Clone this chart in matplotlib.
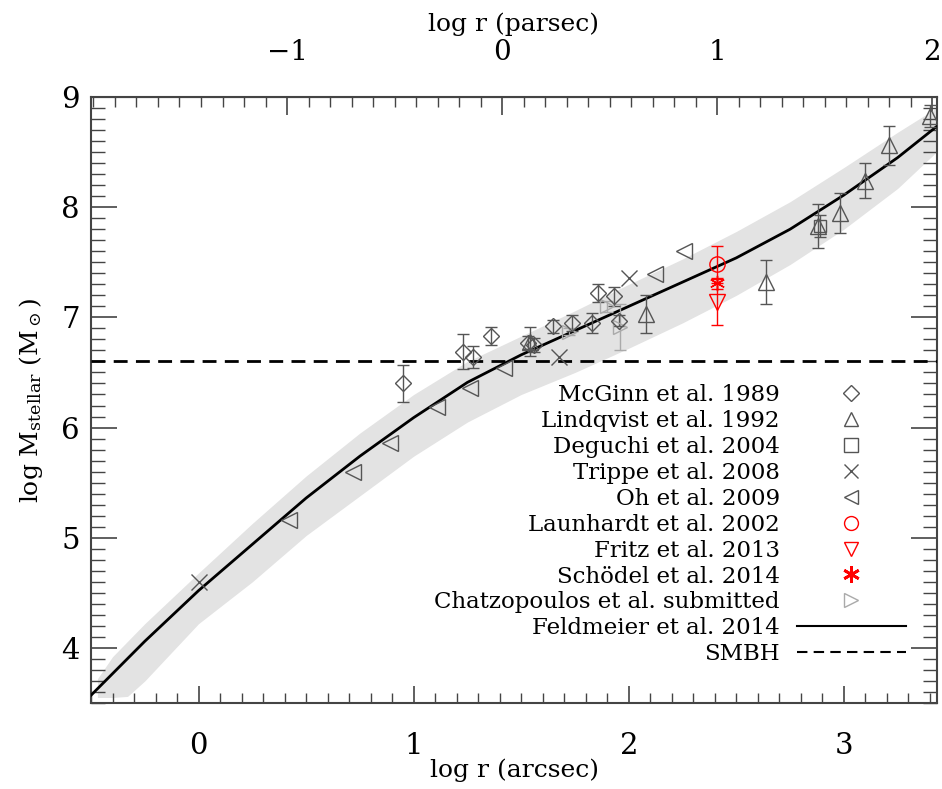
import matplotlib
matplotlib.use("Agg")
import matplotlib.pyplot as plt
from matplotlib.lines import Line2D
from matplotlib.ticker import MultipleLocator
import numpy as np

plt.rcParams['font.family'] = 'DejaVu Serif'
plt.rcParams['mathtext.fontset'] = 'dejavuserif'

# arcsec -> parsec offset (R0 = 8 kpc)
off = np.log10(206265.0 / 8000.0)

# Feldmeier et al. 2014 model
curve_x = [-0.50, -0.25, 0.0, 0.25, 0.50, 0.75, 1.00, 1.25, 1.50, 1.75,
           2.00, 2.25, 2.50, 2.75, 3.00, 3.25, 3.43]
curve_y = [3.57, 4.06, 4.52, 4.94, 5.36, 5.74, 6.09, 6.41, 6.66, 6.88,
           7.10, 7.32, 7.54, 7.80, 8.11, 8.45, 8.73]

band_x = [-0.47, -0.40, -0.33, -0.25, 0.0, 0.25, 0.5, 0.75, 1.0, 1.25, 1.5,
          1.75, 2.0, 2.25, 2.5, 2.75, 3.0, 3.25, 3.43]
band_hi = [3.72, 3.92, 4.06, 4.22, 4.68, 5.13, 5.56, 5.95, 6.30, 6.60, 6.83,
           7.06, 7.30, 7.53, 7.78, 8.05, 8.36, 8.68, 8.90]
band_lo = [3.55, 3.55, 3.56, 3.70, 4.22, 4.60, 5.02, 5.38, 5.74, 6.05, 6.30,
           6.50, 6.72, 6.95, 7.20, 7.48, 7.80, 8.17, 8.50]

smbh = 6.6

# McGinn et al. 1989
mcg_x = [0.95, 1.23, 1.275, 1.36, 1.53, 1.56, 1.65, 1.735, 1.83, 1.855, 1.93, 1.955]
mcg_y = [6.40, 6.69, 6.64, 6.83, 6.77, 6.75, 6.92, 6.95, 6.95, 7.22, 7.19, 6.97]
mcg_e = [0.17, 0.16, 0.10, 0.08, 0.06, 0.06, 0.06, 0.07, 0.09, 0.08, 0.09, 0.05]

# Lindqvist et al. 1992
lin_x = [1.54, 2.08, 2.64, 2.88, 2.98, 3.10, 3.21, 3.40]
lin_y = [6.78, 7.03, 7.32, 7.83, 7.95, 8.24, 8.56, 8.83]
lin_e = [0.13, 0.17, 0.20, 0.20, 0.18, 0.16, 0.18, 0.10]

# Deguchi et al. 2004
deg_x = [2.89]
deg_y = [7.83]
deg_e = [0.10]

# Trippe et al. 2008
tri_x = [0.0, 1.675, 2.0]
tri_y = [4.60, 6.64, 7.36]

# Oh et al. 2009
oh_x = [0.42, 0.716, 0.888, 1.11, 1.26, 1.42, 2.12, 2.255]
oh_y = [5.16, 5.60, 5.86, 6.19, 6.36, 6.54, 7.39, 7.60]

# Launhardt 2002, Fritz 2013, Schoedel 2014
lau_x, lau_y, lau_e = [2.41], [7.48], [0.17]
fri_x, fri_y, fri_e = [2.41], [7.14], [0.21]
sch_x, sch_y, sch_e = [2.41], [7.31], [0.05]

# Chatzopoulos et al. submitted
cha_x = [1.72, 1.90, 1.96]
cha_y = [6.87, 7.10, 6.91]
cha_e = [0.03, 0.05, 0.21]

fig = plt.figure(figsize=(9.42, 7.89), dpi=100)
ax = fig.add_axes([91/942, 86/789, 846/942, 606/789])

ax.fill_between(band_x, band_lo, band_hi, color='#e3e3e3', lw=0, zorder=1)
ax.plot(curve_x, curve_y, color='black', lw=2, zorder=5)
ax.axhline(smbh, color='black', lw=2, ls=(0, (5, 3)), zorder=4)

gray = '#555555'
light = '#aaaaaa'
eb = dict(capsize=4, elinewidth=1, capthick=1, ls='none', mfc='none', zorder=6)

ax.errorbar(cha_x, cha_y, yerr=cha_e, marker='>', ms=10, color=light, mec=light, **eb)
ax.errorbar(mcg_x, mcg_y, yerr=mcg_e, marker='D', ms=8, color=gray, mec=gray, **eb)
ax.errorbar(lin_x, lin_y, yerr=lin_e, marker='^', ms=11, color=gray, mec=gray, **eb)
ax.errorbar(deg_x, deg_y, yerr=deg_e, marker='s', ms=9, color=gray, mec=gray, **eb)
ax.plot(tri_x, tri_y, 'x', ms=11, mew=1, color=gray, zorder=6)
ax.plot(oh_x, oh_y, '<', ms=11, mfc='none', mec=gray, mew=1, ls='none', zorder=6)
ax.errorbar(lau_x, lau_y, yerr=lau_e, marker='o', ms=11, color='red', mec='red', **eb)
ax.errorbar(fri_x, fri_y, yerr=fri_e, marker='v', ms=11, color='red', mec='red', **eb)
ax.errorbar(sch_x, sch_y, yerr=sch_e, marker=(6, 2, 0), ms=11, color='red', mec='red', **eb)

ax.set_xlim(-0.5, 3.433)
ax.set_ylim(3.5, 9.0)
ax.xaxis.set_major_locator(MultipleLocator(1))
ax.xaxis.set_minor_locator(MultipleLocator(0.1))
ax.yaxis.set_major_locator(MultipleLocator(1))
ax.yaxis.set_minor_locator(MultipleLocator(0.1))
ax.tick_params(axis='x', which='major', direction='in', length=12, width=1.2,
               labelsize=21, pad=21, top=False)
ax.tick_params(axis='x', which='minor', direction='in', length=7, width=1, top=False)
ax.tick_params(axis='y', which='major', direction='in', length=19, width=1.2,
               labelsize=21, pad=8, right=True)
ax.tick_params(axis='y', which='minor', direction='in', length=10, width=1, right=True)
for s in ax.spines.values():
    s.set_color('#444444')
    s.set_linewidth(1.5)
ax.tick_params(which='both', color='#444444')

sec = ax.secondary_xaxis('top', functions=(lambda x: x - off, lambda x: x + off))
sec.xaxis.set_major_locator(MultipleLocator(1))
sec.xaxis.set_minor_locator(MultipleLocator(0.1))
sec.tick_params(which='major', direction='in', length=13, width=1.2, labelsize=20,
                pad=22, color='#444444')
sec.tick_params(which='minor', direction='in', length=7, width=1, color='#444444')
sec.spines['top'].set_color('#444444')
sec.set_xlabel('log r (parsec)', fontsize=18, labelpad=6)

ax.set_xlabel('log r (arcsec)', fontsize=18, labelpad=-1)
ax.set_ylabel(r'log M$_{\rm stellar}$ (M$_\odot$)', fontsize=18, labelpad=12)

handles = [
    Line2D([], [], marker='D', ms=8, mfc='none', mec=gray, ls='none'),
    Line2D([], [], marker='^', ms=10, mfc='none', mec=gray, ls='none'),
    Line2D([], [], marker='s', ms=10, mfc='none', mec=gray, ls='none'),
    Line2D([], [], marker='x', ms=10, mec=gray, ls='none'),
    Line2D([], [], marker='<', ms=10, mfc='none', mec=gray, ls='none'),
    Line2D([], [], marker='o', ms=10, mfc='none', mec='red', ls='none'),
    Line2D([], [], marker='v', ms=10, mfc='none', mec='red', ls='none'),
    Line2D([], [], marker=(6, 2, 0), ms=12, mec='red', mew=2, ls='none'),
    Line2D([], [], marker='>', ms=10, mfc='none', mec=light, ls='none'),
    Line2D([], [], color='black', lw=1.5),
    Line2D([], [], color='black', lw=1.5, ls=(0, (5, 3))),
]
labels = ['McGinn et al. 1989', 'Lindqvist et al. 1992', 'Deguchi et al. 2004',
          'Trippe et al. 2008', 'Oh et al. 2009', 'Launhardt et al. 2002',
          'Fritz et al. 2013', 'Schödel et al. 2014', 'Chatzopoulos et al. submitted',
          'Feldmeier et al. 2014', 'SMBH']
ax.legend(handles, labels, loc='upper right', bbox_to_anchor=(0.963, 0.526),
          frameon=False, markerfirst=False, fontsize=16.5, handlelength=4.75,
          handletextpad=0.75, labelspacing=0.17, borderpad=0, borderaxespad=0,
          numpoints=1)

fig.savefig('out.png', dpi=100)
